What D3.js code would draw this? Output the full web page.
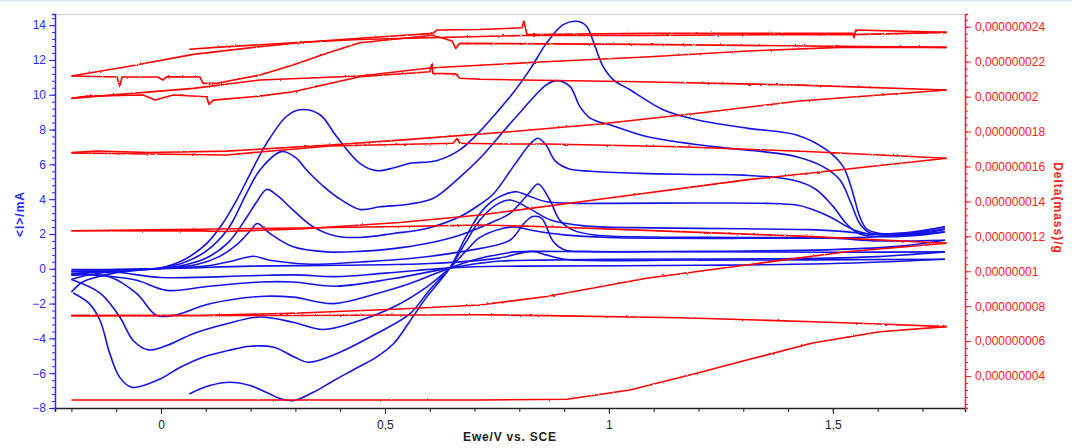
<!DOCTYPE html>
<html><head><meta charset="utf-8">
<script src="https://cdn.jsdelivr.net/npm/d3@7"></script>
<style>
html,body{margin:0;padding:0;background:#fff;}
svg{display:block;font-family:"Liberation Sans",Arial,sans-serif;}
</style></head><body>
<svg id="chart" width="1072" height="448"></svg>
<script>
// ---- axis ticks ----
const potentialTicks = [0, 0.5, 1, 1.5];
const currentTicks = [-8, -6, -4, -2, 0, 2, 4, 6, 8, 10, 12, 14];
const massTicks = [4, 6, 8, 10, 12, 14, 16, 18, 20, 22, 24]; // in ng, labelled in g

// ---- current (mA) vs potential (V), forward sweeps ----
const fwd1 = [[-0.2,-0.05],[0.0,0.0],[0.2,0.15],[0.4,0.2],[0.6,0.3],[0.75,0.6],[0.83,1.0],[0.86,0.8],[0.9,0.55],[1.2,0.5],[1.75,0.55]];
const fwd2 = [[-0.2,-0.15],[-0.1,-0.05],[0.0,0.02],[0.1,0.15],[0.16,0.45],[0.206,0.72],[0.24,0.5],[0.273,0.39],[0.333,0.26],[0.444,0.39],[0.556,0.59],[0.667,0.97],[0.779,1.64],[0.81,2.6],[0.83,3.0],[0.85,2.9],[0.875,1.6],[0.9,1.1],[0.95,1.0],[1.2,0.98],[1.5,0.95],[1.75,0.97]];
const fwd3 = [[-0.2,-0.28],[-0.1,-0.1],[0.0,0.02],[0.08,0.25],[0.13,0.7],[0.17,1.4],[0.2,2.2],[0.215,2.6],[0.243,2.03],[0.295,1.26],[0.37,0.97],[0.444,1.0],[0.519,1.16],[0.593,1.45],[0.667,1.93],[0.742,2.7],[0.779,3.18],[0.82,4.3],[0.842,4.87],[0.868,3.95],[0.89,2.8],[0.92,2.22],[0.972,1.93],[1.1,1.83],[1.3,1.8],[1.5,1.75],[1.6,1.6],[1.75,1.64]];
const fwd4 = [[-0.2,-0.37],[-0.15,-0.2],[-0.08,-0.08],[0.0,0.03],[0.05,0.2],[0.1,0.6],[0.15,1.5],[0.19,2.9],[0.215,3.9],[0.236,4.56],[0.26,4.2],[0.295,3.37],[0.34,2.41],[0.392,1.87],[0.444,1.8],[0.519,2.03],[0.593,2.32],[0.667,2.99],[0.712,3.7],[0.742,4.3],[0.79,6.0],[0.825,7.2],[0.842,7.5],[0.86,7.1],[0.88,6.2],[0.91,5.75],[0.96,5.6],[1.07,5.48],[1.2,5.42],[1.3,5.38],[1.41,5.1],[1.46,4.6],[1.5,3.6],[1.53,2.6],[1.56,2.0],[1.62,1.85],[1.7,1.95],[1.75,2.12]];
const fwd5 = [[-0.2,-0.62],[-0.17,-0.4],[-0.12,-0.2],[-0.05,-0.05],[0.0,0.05],[0.05,0.35],[0.1,1.0],[0.15,2.3],[0.191,4.33],[0.221,5.68],[0.269,6.73],[0.3,6.4],[0.325,5.68],[0.36,4.8],[0.392,4.14],[0.444,3.41],[0.489,3.56],[0.556,3.72],[0.608,4.05],[0.66,5.1],[0.712,6.35],[0.787,8.56],[0.861,10.58],[0.883,10.81],[0.913,10.48],[0.935,9.33],[0.958,8.66],[1.01,8.21],[1.084,7.6],[1.233,7.02],[1.345,6.73],[1.419,6.44],[1.478,5.87],[1.516,5.1],[1.54,3.8],[1.56,2.6],[1.58,2.1],[1.62,1.95],[1.7,2.05],[1.75,2.28]];
const fwd6 = [[-0.2,-1.34],[-0.175,-0.76],[-0.14,-0.45],[-0.1,-0.22],[-0.05,-0.08],[0.0,0.05],[0.05,0.5],[0.1,1.4],[0.135,2.5],[0.169,3.95],[0.2,5.5],[0.236,7.22],[0.28,8.75],[0.31,9.14],[0.355,8.85],[0.392,7.6],[0.444,6.06],[0.481,5.64],[0.52,5.8],[0.556,6.06],[0.615,6.21],[0.667,6.83],[0.712,7.9],[0.75,9.0],[0.786,10.1],[0.825,11.5],[0.861,12.98],[0.898,14.03],[0.928,14.22],[0.95,13.94],[0.969,12.78],[0.987,11.63],[1.01,10.86],[1.047,10.29],[1.121,9.14],[1.196,8.56],[1.308,8.08],[1.419,7.69],[1.486,6.83],[1.523,5.87],[1.538,4.91],[1.549,3.95],[1.56,3.0],[1.575,2.3],[1.6,2.05],[1.65,2.0],[1.7,2.15],[1.75,2.41]];

// ---- current (mA) vs potential (V), reverse sweeps ----
const rev1 = [[1.75,0.55],[1.5,0.3],[1.2,0.2],[0.8,0.15],[0.7,0.12],[0.645,0.05],[0.5,-0.25],[0.39,-0.45],[0.3,-0.35],[0.2,-0.4],[0.0,-0.5],[-0.1,-0.2],[-0.2,-0.15]];
const rev2 = [[1.75,0.97],[1.6,0.7],[1.4,0.58],[1.0,0.55],[0.85,0.5],[0.76,0.45],[0.712,0.32],[0.645,0.05],[0.519,-0.56],[0.392,-1.0],[0.295,-0.76],[0.221,-0.76],[0.109,-1.0],[0.013,-1.24],[-0.054,-0.66],[-0.114,-0.43],[-0.2,-0.28]];
const rev3 = [[1.75,1.64],[1.65,1.3],[1.5,1.1],[1.2,1.0],[0.95,0.98],[0.85,1.0],[0.79,0.97],[0.76,0.85],[0.712,0.6],[0.645,0.05],[0.556,-0.85],[0.481,-1.43],[0.385,-2.0],[0.295,-1.63],[0.221,-1.59],[0.109,-2.01],[0.028,-2.68],[-0.01,-2.68],[-0.054,-1.43],[-0.114,-0.47],[-0.2,-0.37]];
const rev4 = [[1.75,2.12],[1.65,1.9],[1.55,1.8],[1.3,1.75],[1.0,1.8],[0.9,1.95],[0.83,2.2],[0.79,2.4],[0.76,2.3],[0.712,1.8],[0.68,1.0],[0.645,0.05],[0.593,-1.05],[0.519,-2.2],[0.444,-2.97],[0.362,-3.49],[0.295,-3.07],[0.221,-2.77],[0.147,-3.16],[0.072,-3.73],[0.013,-4.41],[-0.028,-4.66],[-0.062,-4.12],[-0.092,-2.77],[-0.136,-1.4],[-0.2,-0.62]];
const rev5 = [[1.75,2.28],[1.7,2.1],[1.62,1.95],[1.58,2.0],[1.52,2.15],[1.45,2.25],[1.3,2.3],[1.1,2.35],[0.95,2.45],[0.87,2.8],[0.82,3.5],[0.78,3.95],[0.75,3.7],[0.712,2.8],[0.68,1.5],[0.645,0.05],[0.6,-1.2],[0.556,-2.58],[0.481,-3.73],[0.392,-4.88],[0.329,-5.37],[0.3,-5.1],[0.252,-4.51],[0.199,-4.45],[0.15,-4.7],[0.094,-5.08],[0.04,-5.7],[-0.002,-6.33],[-0.065,-6.81],[-0.092,-6.24],[-0.114,-4.89],[-0.136,-2.97],[-0.16,-2.0],[-0.196,-1.39]];
const rev6 = [[1.75,2.41],[1.7,2.2],[1.65,2.05],[1.6,2.0],[1.575,2.03],[1.55,2.2],[1.53,2.45],[1.493,2.99],[1.45,3.45],[1.419,3.66],[1.352,3.76],[1.2,3.78],[1.0,3.76],[0.935,3.76],[0.861,3.85],[0.82,4.2],[0.794,4.43],[0.77,4.3],[0.74,3.9],[0.712,3.18],[0.68,1.8],[0.645,0.05],[0.593,-1.63],[0.556,-3.0],[0.519,-4.31],[0.481,-5.08],[0.43,-5.8],[0.385,-6.43],[0.34,-7.1],[0.295,-7.58],[0.265,-7.45],[0.243,-7.2],[0.199,-6.71],[0.154,-6.52],[0.109,-6.71],[0.063,-7.19]];

// ---- mass change (ng) vs potential (V) ----
const massFwd1 = [[-0.2,2.63],[0.712,2.63],[0.906,2.67],[1.047,3.2],[1.196,4.16],[1.308,4.92],[1.455,5.89],[1.605,6.54],[1.754,6.83]];
const massRev1 = [[1.754,6.83],[1.605,6.98],[1.456,7.11],[1.158,7.34],[0.861,7.46],[0.712,7.51],[0.31,7.47],[-0.2,7.46]];
const massFwd2 = [[-0.2,7.46],[0.087,7.47],[0.145,7.5],[0.31,7.61],[0.533,7.84],[0.712,8.07],[0.861,8.55],[1.084,9.6],[1.307,10.36],[1.531,11.12],[1.754,11.6]];
const massRev2 = [[1.754,11.6],[1.455,11.98],[1.158,12.27],[0.861,12.55],[0.712,12.65],[0.533,12.56],[0.31,12.48],[-0.2,12.32]];
const massFwd3 = [[-0.2,12.32],[0.087,12.31],[0.145,12.28],[0.31,12.42],[0.533,12.79],[0.712,13.22],[0.958,14.05],[1.307,15.23],[1.754,16.47]];
const massRev3 = [[1.754,16.47],[1.455,16.84],[1.158,17.13],[0.861,17.29],[0.779,17.29],[0.667,17.33],[0.661,17.6],[0.652,17.33],[0.377,17.17],[0.221,16.83],[0.147,16.66],[-0.025,16.71],[-0.2,16.77]];
const massFwd4 = [[-0.2,16.79],[-0.145,16.88],[-0.025,16.8],[0.147,16.88],[0.377,17.23],[0.533,17.51],[0.779,17.99],[0.98,18.43],[1.203,19.06],[1.426,19.75],[1.754,20.38]];
const massRev4 = [[1.754,20.38],[1.426,20.66],[1.069,20.85],[0.712,20.99],[0.667,21.05],[0.658,21.3],[0.607,21.33],[0.605,21.9],[0.6,21.42],[0.444,21.14],[0.295,20.28],[0.221,20.03],[0.117,19.8],[0.107,19.56],[0.102,19.99],[0.027,20.09],[-0.013,19.8],[-0.04,20.09],[-0.166,20.03],[-0.2,19.9]];
const massFwd5 = [[-0.2,19.9],[0.072,20.47],[0.221,20.95],[0.444,21.18],[0.6,21.64],[0.846,21.98],[1.092,22.28],[1.3,22.6],[1.516,22.82],[1.754,22.82]];
const massRev5 = [[1.754,22.82],[1.069,22.99],[0.667,23.05],[0.658,22.76],[0.65,23.18],[0.607,23.51],[0.444,23.08],[0.37,22.48],[0.295,21.81],[0.221,21.24],[0.125,20.76],[0.094,20.76],[0.087,21.12],[0.013,21.14],[0.004,20.95],[-0.007,21.12],[-0.087,21.12],[-0.092,20.57],[-0.098,21.12],[-0.2,21.18]];
const massFwd6 = [[-0.2,21.18],[-0.077,21.71],[0.072,22.42],[0.221,22.86],[0.332,23.14],[0.444,23.34],[0.607,23.62],[0.616,23.81],[0.712,23.84],[0.806,23.94],[0.81,24.33],[0.817,23.56],[1.092,23.62],[1.545,23.62],[1.547,23.37],[1.551,23.81],[1.754,23.68]];
const massRev6 = [[1.754,23.68],[1.545,23.55],[1.382,23.55],[1.069,23.5],[0.808,23.5],[0.667,23.41],[0.444,23.27],[0.295,23.08],[0.147,22.86],[0.063,22.71]];

const currentSweeps = [fwd1, rev1, fwd2, rev2, fwd3, rev3, fwd4, rev4, fwd5, rev5, fwd6, rev6];
const massSweeps = [massFwd1, massRev1, massFwd2, massRev2, massFwd3, massRev3, massFwd4, massRev4, massFwd5, massRev5, massFwd6, massRev6];

// ---- layout ----
const W = 1072, H = 448;
const plotLeft = 55, plotRight = 965, plotTop = 14, plotBottom = 408;
const blue = "#1414e6", blueAxis = "#2b2bff", red = "#ff0000", redAxis = "#ff2020";

const svg = d3.select("#chart");
const x = d3.scaleLinear().domain([-0.2366, 1.795]).range([plotLeft, plotRight]);
const yI = d3.scaleLinear().domain([-8, 14.64]).range([plotBottom, plotTop]);
const yM = d3.scaleLinear().domain([2.17, 24.73]).range([plotBottom, plotTop]);

const comma = s => s.replace(".", ",");

// slight jitter so the balance trace reads as a measured signal
const defs = svg.append("defs");
const flt = defs.append("filter").attr("id", "jitter").attr("x", "-2%").attr("y", "-5%")
  .attr("width", "104%").attr("height", "110%");
flt.append("feTurbulence").attr("type", "fractalNoise").attr("baseFrequency", "0.45 0.9")
  .attr("numOctaves", 1).attr("seed", 3).attr("result", "n");
flt.append("feDisplacementMap").attr("in", "SourceGraphic").attr("in2", "n")
  .attr("scale", 2.2).attr("xChannelSelector", "R").attr("yChannelSelector", "G");

// thin strip along the top edge of the window
svg.append("rect").attr("x", 0).attr("y", 0).attr("width", W).attr("height", 1.5).attr("fill", "#dbe7f7");

// top frame line
svg.append("line").attr("x1", plotLeft).attr("x2", plotRight).attr("y1", plotTop + 0.5).attr("y2", plotTop + 0.5)
  .attr("stroke", "#d4d4d4").attr("stroke-width", 1.5);

// ---- curves ----
const plot = svg.append("g");
const lineI = d3.line().x(d => x(d[0])).y(d => yI(d[1])).curve(d3.curveCatmullRom.alpha(0.5));
const lineM = d3.line().x(d => x(d[0])).y(d => yM(d[1]));

plot.selectAll("path.cur").data(currentSweeps).join("path").attr("class", "cur")
  .attr("d", lineI).attr("fill", "none").attr("stroke", blue).attr("stroke-width", 1.6)
  .attr("stroke-linejoin", "round");

plot.append("g").attr("filter", "url(#jitter)")
  .selectAll("path.mass").data(massSweeps).join("path").attr("class", "mass")
  .attr("d", lineM).attr("fill", "none").attr("stroke", red).attr("stroke-width", 1.6)
  .attr("stroke-linejoin", "round");

// ---- axes ----
function styleAxis(g, color) {
  g.select(".domain").attr("stroke", color).attr("stroke-width", 1.5);
  g.selectAll(".tick line").attr("stroke", color);
  g.selectAll(".tick text").attr("fill", color).attr("font-size", 12);
}

// bottom
const xMinor = d3.range(-2, 18).map(i => i / 10);
svg.append("g").attr("transform", `translate(0,${plotBottom})`)
  .call(d3.axisBottom(x).tickValues(xMinor).tickSize(4).tickFormat(""))
  .call(g => styleAxis(g, "#222"));
svg.append("g").attr("transform", `translate(0,${plotBottom})`)
  .call(d3.axisBottom(x).tickValues(potentialTicks).tickSize(6).tickPadding(6)
    .tickFormat(d => comma(d3.format("~g")(d))))
  .call(g => { styleAxis(g, "#222"); g.select(".domain").remove(); });

// left (current)
const yIMinor = d3.range(-20, 37).map(i => i * 0.4).filter(v => v <= 14.64);
svg.append("g").attr("transform", `translate(${plotLeft},0)`)
  .call(d3.axisLeft(yI).tickValues(yIMinor).tickSize(3).tickFormat(""))
  .call(g => styleAxis(g, blueAxis));
svg.append("g").attr("transform", `translate(${plotLeft},0)`)
  .call(d3.axisLeft(yI).tickValues(currentTicks).tickSize(6).tickPadding(3))
  .call(g => { styleAxis(g, blueAxis); g.select(".domain").remove(); });

// right (mass)
const yMMinor = d3.range(6, 62).map(i => i * 0.4).filter(v => v >= 2.17 && v <= 24.73);
svg.append("g").attr("transform", `translate(${plotRight},0)`)
  .call(d3.axisRight(yM).tickValues(yMMinor).tickSize(3).tickFormat(""))
  .call(g => styleAxis(g, redAxis));
svg.append("g").attr("transform", `translate(${plotRight},0)`)
  .call(d3.axisRight(yM).tickValues(massTicks).tickSize(6).tickPadding(4)
    .tickFormat(d => comma(d3.format(".9~f")(d * 1e-9))))
  .call(g => { styleAxis(g, redAxis); g.select(".domain").remove(); });

// ---- axis titles ----
svg.append("text").attr("transform", "translate(24,214) rotate(-90)")
  .attr("text-anchor", "middle").attr("fill", blueAxis).attr("font-size", 12)
  .attr("font-weight", "bold").attr("letter-spacing", 1).text("<I>/mA");
svg.append("text").attr("transform", "translate(1054,208) rotate(90)")
  .attr("text-anchor", "middle").attr("fill", redAxis).attr("font-size", 12)
  .attr("font-weight", "bold").attr("letter-spacing", 1).text("Delta(mass)/g");
svg.append("text").attr("x", 510).attr("y", 441)
  .attr("text-anchor", "middle").attr("fill", "#222").attr("font-size", 12)
  .attr("font-weight", "bold").attr("letter-spacing", 0.8).text("Ewe/V vs. SCE");
</script></body></html>
